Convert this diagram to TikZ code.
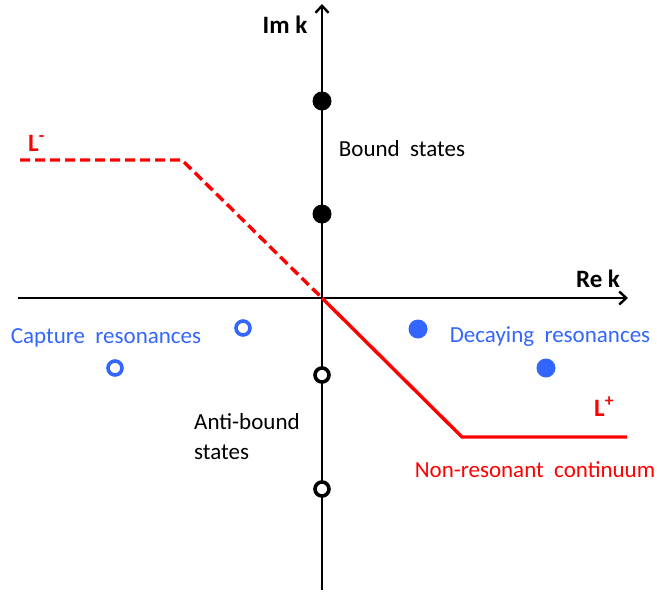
\documentclass[tikz,border=0pt]{standalone}
\usepackage{fontspec}
\setmainfont{Carlito}
\usetikzlibrary{arrows.meta}
\definecolor{resblue}{RGB}{51,102,255}
\definecolor{lred}{RGB}{255,0,0}
\begin{document}
\begin{tikzpicture}[x=1pt,y=-1pt,
  axis/.style={line width=2.4pt,-{Straight Barb[length=7pt,width=13pt,line width=2.4pt]}},
  contour/.style={lred,line width=3.4pt},
  fulldot/.style={circle,fill=#1,inner sep=0pt,minimum size=19pt},
  opendot/.style={circle,draw=#1,line width=3.6pt,fill=white,inner sep=0pt,minimum size=14pt},
  lbl/.style={font=\fontsize{23}{27}\selectfont,inner sep=0pt},
  bl/.style={lbl,font=\fontsize{25}{30}\selectfont\bfseries}]
\useasboundingbox (0,0) rectangle (657,595);
\coordinate (O) at (322,298);
\coordinate (ybot) at (322,590);
\coordinate (ytop) at (322,4);
\coordinate (xl) at (18,298);
\coordinate (xr) at (628,298);
\coordinate (Lm0) at (20,160);
\coordinate (Lm1) at (182,160);
\coordinate (Lp1) at (462,437);
\coordinate (Lp0) at (627,437);
\draw[axis] (ybot) -- (ytop);
\draw[axis] (xl) -- (xr);
\draw[contour,dash pattern=on 10pt off 5pt] (Lm0) -- (Lm1) -- (O);
\draw[contour,line join=miter] (O) -- (Lp1) -- (Lp0);
\node[fulldot=black] (b1) at (322,101) {};
\node[fulldot=black] (b2) at (322,214) {};
\node[opendot=black] (a1) at (322,375) {};
\node[opendot=black] (a2) at (322,489) {};
\node[opendot=resblue] (c1) at (243,328) {};
\node[opendot=resblue] (c2) at (115,368) {};
\node[fulldot=resblue] (d1) at (418,329) {};
\node[fulldot=resblue] (d2) at (546,368) {};
\node[bl,lred,anchor=base west] (lminus) at (28,151) {L\textsuperscript{-}};
\node[bl] (imk) at (285,25) {Im k};
\node[bl] (rek) at (598,279) {Re k};
\node[bl,lred,anchor=base west] (lplus) at (594,416) {L\textsuperscript{+}};
\node[lbl] (bound) at (402,149) {Bound\ \ states};
\node[lbl,resblue] (capt) at (106,338) {Capture\ \ resonances};
\node[lbl,resblue] (decay) at (550,337) {Decaying\ \ resonances};
\node[lbl,align=left,anchor=west,font=\fontsize{23}{30}\selectfont] (anti) at (194,437) {Anti-bound\\states};
\node[lbl,lred] (nonres) at (535,470) {Non-resonant\ \ continuum};
\end{tikzpicture}
\end{document}
